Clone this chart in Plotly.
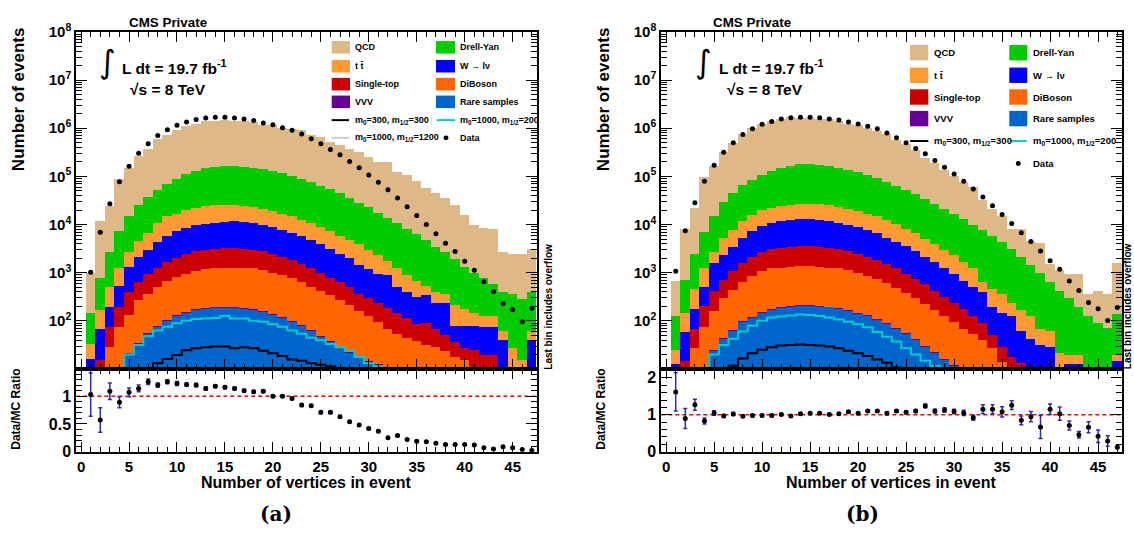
import plotly.graph_objects as go

W, H = 1134, 544
FONT = "Liberation Sans"

bins = list(range(1, 48))
x_tick_vals = [0, 5, 10, 15, 20, 25, 30, 35, 40, 45]

# ---------------- panel (a): log10(number of events), cumulative stack tops ----------------
qcd_a = [3.0, 4.08, 4.39, 4.94, 5.18, 5.42, 5.58, 5.77, 5.87, 5.97, 6.05, 6.10, 6.15, 6.16, 6.17, 6.15,
         6.15, 6.13, 6.07, 6.07, 6.01, 5.98, 5.96, 5.86, 5.83, 5.71, 5.65, 5.58, 5.50, 5.41, 5.31, 5.30,
         5.09, 5.03, 4.91, 4.77, 4.65, 4.55, 4.40, 4.20, 4.00, 3.93, 3.90, 3.43, 3.40, 3.40, 3.50]
dy_a = [2.17, 2.9, 3.43, 3.87, 4.17, 4.4, 4.57, 4.72, 4.85, 4.95, 5.05, 5.11, 5.17, 5.19, 5.21, 5.21,
        5.2, 5.18, 5.15, 5.11, 5.07, 5.01, 4.95, 4.89, 4.8, 4.73, 4.65, 4.55, 4.45, 4.37, 4.25, 4.13,
        4.03, 3.91, 3.8, 3.69, 3.53, 3.43, 3.29, 3.13, 3.0, 2.89, 2.77, 2.6, 2.55, 2.45, 2.6]
tt_a = [1.53, 2.23, 2.7, 3.1, 3.43, 3.67, 3.83, 4.03, 4.17, 4.23, 4.3, 4.35, 4.39, 4.4, 4.4, 4.4,
        4.39, 4.37, 4.33, 4.29, 4.23, 4.17, 4.1, 4.03, 3.95, 3.87, 3.77, 3.69, 3.6, 3.47, 3.37, 3.25,
        3.1, 2.95, 2.82, 2.73, 2.6, 2.57, 2.33, 2.25, 2.17, 2.1, 2.1, 1.8, 1.43, 1.2, 1.8]
w_a = [1.22, 1.83, 2.3, 2.73, 3.13, 3.33, 3.47, 3.63, 3.77, 3.87, 3.93, 3.99, 4.01, 4.03, 4.05, 4.07,
       4.05, 4.03, 4.0, 3.95, 3.89, 3.83, 3.77, 3.69, 3.6, 3.5, 3.4, 3.3, 3.17, 3.07, 2.97, 2.95,
       2.7, 2.6, 2.5, 2.53, 2.37, 2.37, 1.9, 1.9, 1.9, 1.87, 1.87, 1.6, None, None, 1.6]
st_a = [None, 1.2, 1.87, 2.3, 2.6, 2.8, 2.97, 3.1, 3.23, 3.31, 3.4, 3.45, 3.48, 3.5, 3.51, 3.51,
        3.5, 3.48, 3.45, 3.4, 3.33, 3.27, 3.18, 3.09, 3.0, 2.9, 2.8, 2.7, 2.57, 2.47, 2.37, 2.27,
        2.17, 2.07, 1.93, 1.95, 1.83, 1.7, 1.57, 1.43, 1.4, 1.3, 1.3, None, None, None, None]
db_a = [None, None, 1.47, 1.87, 2.13, 2.43, 2.57, 2.7, 2.83, 2.91, 2.97, 3.03, 3.08, 3.1, 3.11, 3.11,
        3.1, 3.09, 3.05, 3.0, 2.95, 2.89, 2.8, 2.71, 2.63, 2.53, 2.43, 2.33, 2.2, 2.1, 1.97, 1.83,
        1.73, 1.65, 1.58, 1.5, 1.45, 1.37, 1.25, 1.2, None, None, None, None, None, None, None]
vvv_a = [None, None, None, 1.05, 1.33, 1.55, 1.75, 1.89, 2.02, 2.12, 2.19, 2.24, 2.27, 2.28, 2.29, 2.29,
         2.27, 2.25, 2.2, 2.15, 2.09, 2.0, 1.92, 1.82, 1.69, 1.59, 1.45, 1.35, 1.25, 1.17, 1.1, 1.04,
         None, None, None, None, None, None, None, None, None, None, None, None, None, None, None]
rare_a = [None, None, None, None, 1.31, 1.53, 1.73, 1.87, 2.0, 2.1, 2.17, 2.22, 2.25, 2.26, 2.27, 2.27,
          2.25, 2.23, 2.18, 2.13, 2.07, 1.98, 1.9, 1.8, 1.67, 1.57, 1.43, 1.33, 1.23, 1.15, 1.08, 1.02,
          None, None, None, None, None, None, None, None, None, None, None, None, None, None, None]
sig_cyan_a = [None, None, None, None, 1.3, 1.5, 1.68, 1.8, 1.88, 1.95, 2.0, 2.04, 2.05, 2.06, 2.1, 2.05,
              2.05, 2.0, 1.98, 1.93, 1.88, 1.8, 1.73, 1.65, 1.6, 1.52, 1.45, 1.38, 1.25, 1.12, 1.05, 1.02,
              None, None, None, None, None, None, None, None, None, None, None, None, None, None, None]
sig_black_a = [None, None, None, None, None, None, None, 1.12, 1.21, 1.29, 1.39, 1.43, 1.45, 1.47, 1.47, 1.43,
               1.45, 1.43, 1.38, 1.33, 1.27, 1.2, 1.17, 1.12, 1.09, 1.05, None, None, None, None, None, None,
               None, None, None, None, None, None, None, None, None, None, None, None, None, None, None]
data_a = [3.01, 3.84, 4.43, 4.89, 5.21, 5.48, 5.68, 5.85, 5.97, 6.06, 6.13, 6.18, 6.21, 6.23, 6.23, 6.21,
          6.19, 6.16, 6.11, 6.07, 6.01, 5.96, 5.88, 5.78, 5.68, 5.56, 5.45, 5.31, 5.18, 5.03, 4.88, 4.72,
          4.55, 4.37, 4.19, 4.0, 3.81, 3.61, 3.44, 3.24, 3.05, 2.81, 2.61, 2.36, 2.23, 1.98, 2.26]
ratio_a = [1.03, 0.57, 1.09, 0.89, 1.07, 1.14, 1.26, 1.2, 1.26, 1.23, 1.21, 1.2, 1.14, 1.18, 1.16, 1.14,
           1.1, 1.08, 1.09, 1.0, 1.0, 0.96, 0.84, 0.83, 0.71, 0.71, 0.63, 0.54, 0.48, 0.42, 0.37, 0.25,
           0.29, 0.22, 0.19, 0.18, 0.15, 0.13, 0.13, 0.13, 0.12, 0.07, 0.05, 0.09, 0.07, 0.04, 0.02]
ratio_err_a = [0.39, 0.22, 0.15, 0.1, 0.08, 0.06, 0.05, 0.04, 0.035, 0.035, 0.03, 0.03, 0.03, 0.025, 0.025, 0.025,
               0.025, 0.025, 0.025, 0.02, 0.02, 0.02, 0.025, 0.02, 0.025, 0.02, 0.02, 0.015, 0.015, 0.015, 0.015, 0.02,
               0.015, 0.01, 0.01, 0.01, 0.01, 0.01, 0.01, 0.01, 0.01, 0.01, 0.01, 0.01, 0.01, 0.01, 0.01]

# ---------------- panel (b) ----------------
qcd_b = [2.82, 3.92, 4.35, 4.98, 5.21, 5.51, 5.69, 5.89, 6.0, 6.09, 6.15, 6.19, 6.23, 6.22, 6.21, 6.2,
         6.19, 6.16, 6.1, 6.07, 6.0, 5.95, 5.88, 5.76, 5.67, 5.54, 5.38, 5.29, 5.14, 5.01, 4.88, 4.78,
         4.51, 4.33, 4.18, 3.92, 3.9, 3.67, 3.62, 3.19, 3.06, 2.98, 2.97, 2.56, 2.63, 2.55, 3.2]
dy_b = [2.1, 2.85, 3.4, 3.85, 4.18, 4.47, 4.65, 4.83, 4.93, 5.03, 5.11, 5.17, 5.21, 5.25, 5.25, 5.23,
        5.21, 5.18, 5.13, 5.09, 5.03, 4.97, 4.89, 4.8, 4.71, 4.63, 4.53, 4.43, 4.33, 4.23, 4.12, 4.0,
        3.89, 3.77, 3.63, 3.5, 3.33, 3.17, 3.0, 2.8, 2.63, 2.47, 2.3, 2.1, 1.95, 1.85, 2.15]
tt_b = [1.4, 2.17, 2.67, 3.1, 3.43, 3.73, 3.89, 4.07, 4.2, 4.3, 4.35, 4.39, 4.41, 4.43, 4.43, 4.42,
        4.4, 4.37, 4.33, 4.29, 4.23, 4.17, 4.1, 4.02, 3.91, 3.82, 3.71, 3.6, 3.48, 3.37, 3.23, 3.1,
        2.8, 2.67, 2.57, 2.37, 2.23, 2.1, 1.83, 1.8, 1.33, 1.3, 1.3, None, None, None, 1.3]
w_b = [1.1, 1.77, 2.25, 2.7, 3.2, 3.37, 3.53, 3.73, 3.87, 3.97, 4.03, 4.07, 4.1, 4.11, 4.11, 4.1,
       4.07, 4.03, 4.0, 3.95, 3.89, 3.82, 3.73, 3.65, 3.55, 3.45, 3.33, 3.22, 3.1, 2.97, 2.83, 2.7,
       2.6, 2.3, 2.17, 2.1, 1.8, 1.63, 1.5, 1.45, None, 1.1, 1.1, None, None, None, 1.17]
st_b = [None, 1.17, 1.83, 2.31, 2.63, 2.85, 3.03, 3.2, 3.33, 3.43, 3.49, 3.51, 3.53, 3.55, 3.55, 3.53,
        3.51, 3.49, 3.45, 3.4, 3.33, 3.27, 3.18, 3.09, 2.98, 2.87, 2.77, 2.63, 2.5, 2.38, 2.25, 2.1,
        1.95, 1.7, 1.45, 1.25, 1.13, 1.05, None, None, None, None, None, None, None, None, None]
db_b = [None, None, 1.43, 1.87, 2.2, 2.47, 2.65, 2.8, 2.93, 3.03, 3.09, 3.11, 3.13, 3.15, 3.15, 3.13,
        3.11, 3.09, 3.05, 3.0, 2.93, 2.87, 2.78, 2.69, 2.58, 2.47, 2.35, 2.23, 2.1, 1.97, 1.83, 1.72,
        1.6, 1.43, 1.15, 1.0, None, None, None, None, None, None, None, None, None, None, None]
vvv_b = [None, None, None, None, 1.4, 1.65, 1.82, 1.99, 2.09, 2.19, 2.24, 2.29, 2.32, 2.34, 2.34, 2.32,
         2.3, 2.27, 2.22, 2.17, 2.12, 2.05, 1.95, 1.85, 1.75, 1.62, 1.49, 1.35, 1.22, 1.09, None, None,
         None, None, None, None, None, None, None, None, None, None, None, None, None, None, None]
rare_b = [None, None, None, None, 1.38, 1.63, 1.8, 1.97, 2.07, 2.17, 2.22, 2.27, 2.3, 2.32, 2.32, 2.3,
          2.28, 2.25, 2.2, 2.15, 2.1, 2.03, 1.93, 1.83, 1.73, 1.6, 1.47, 1.33, 1.2, 1.07, None, None,
          None, None, None, None, None, None, None, None, None, None, None, None, None, None, None]
sig_cyan_b = [None, None, None, None, 1.3, 1.5, 1.63, 1.78, 1.9, 2.0, 2.07, 2.09, 2.11, 2.13, 2.12, 2.1,
              2.07, 2.03, 1.98, 1.93, 1.87, 1.77, 1.67, 1.57, 1.43, 1.3, 1.17, 1.07, None, None, None, None,
              None, None, None, None, None, None, None, None, None, None, None, None, None, None, None]
sig_black_b = [None, None, None, None, None, None, 1.07, 1.22, 1.33, 1.4, 1.45, 1.49, 1.5, 1.51, 1.5, 1.49,
               1.47, 1.43, 1.38, 1.33, 1.27, 1.2, 1.13, 1.03, None, None, None, None, None, None, None, None,
               None, None, None, None, None, None, None, None, None, None, None, None, None, None, None]
data_b = [3.03, 3.87, 4.45, 4.9, 5.23, 5.5, 5.7, 5.87, 5.99, 6.08, 6.14, 6.19, 6.22, 6.23, 6.23, 6.22,
          6.19, 6.17, 6.13, 6.09, 6.04, 5.99, 5.9, 5.8, 5.7, 5.58, 5.47, 5.33, 5.19, 5.05, 4.9, 4.74,
          4.57, 4.39, 4.21, 4.02, 3.83, 3.65, 3.45, 3.25, 3.07, 2.83, 2.63, 2.38, 2.25, 2.01, 2.28]
ratio_b = [1.62, 0.9, 1.27, 0.83, 1.05, 0.97, 1.02, 0.96, 0.98, 0.98, 0.98, 1.01, 0.97, 1.03, 1.04, 1.04,
           1.01, 1.03, 1.08, 1.04, 1.1, 1.1, 1.04, 1.1, 1.07, 1.1, 1.24, 1.1, 1.13, 1.09, 1.05, 0.92,
           1.15, 1.15, 1.08, 1.26, 0.85, 0.95, 0.67, 1.15, 1.03, 0.71, 0.46, 0.66, 0.42, 0.29, 0.12]
ratio_err_b = [0.52, 0.27, 0.15, 0.08, 0.06, 0.04, 0.04, 0.03, 0.03, 0.03, 0.025, 0.025, 0.025, 0.025, 0.025, 0.025,
               0.025, 0.025, 0.03, 0.03, 0.03, 0.03, 0.04, 0.03, 0.04, 0.04, 0.05, 0.05, 0.06, 0.06, 0.07, 0.07,
               0.12, 0.12, 0.14, 0.12, 0.12, 0.14, 0.31, 0.14, 0.18, 0.12, 0.09, 0.15, 0.17, 0.14, 0.03]

# colours
C_QCD, C_DY, C_TT, C_W = "#deb887", "#00cc00", "#ff9933", "#0000ff"
C_ST, C_DB, C_VVV, C_RARE = "#cc0000", "#ff6600", "#660099", "#0066cc"
C_CYAN, C_GRAY, C_ERR = "#00cccc", "#cccccc", "#2a2ab4"


def lin(arr):
    return [None if v is None else 10 ** v for v in arr]


def lin_hist(arr):
    # empty bins are drawn at 1 (below the 10^1 floor) so the step outline drops off the frame
    return [1.0 if v is None else 10 ** v for v in arr]


fig = go.Figure()

panels = [
    dict(xa="x", ya="y", xr="x2", yr="y2",
         stack=[qcd_a, dy_a, tt_a, w_a, st_a, db_a, vvv_a, rare_a],
         cyan=sig_cyan_a, black=sig_black_a, data=data_a, ratio=ratio_a, err=ratio_err_a),
    dict(xa="x3", ya="y3", xr="x4", yr="y4",
         stack=[qcd_b, dy_b, tt_b, w_b, st_b, db_b, vvv_b, rare_b],
         cyan=sig_cyan_b, black=sig_black_b, data=data_b, ratio=ratio_b, err=ratio_err_b),
]
stack_colors = [C_QCD, C_DY, C_TT, C_W, C_ST, C_DB, C_VVV, C_RARE]

for p in panels:
    for arr, col in zip(p["stack"], stack_colors):
        fig.add_trace(go.Bar(x=bins, y=lin(arr), width=1.0, marker=dict(color=col, line=dict(width=0)),
                             xaxis=p["xa"], yaxis=p["ya"], showlegend=False, hoverinfo="skip"))
    fig.add_trace(go.Scatter(x=bins, y=lin_hist(p["cyan"]), mode="lines",
                             line=dict(shape="hvh", color=C_CYAN, width=2),
                             xaxis=p["xa"], yaxis=p["ya"], showlegend=False))
    fig.add_trace(go.Scatter(x=bins, y=lin_hist(p["black"]), mode="lines",
                             line=dict(shape="hvh", color="black", width=2),
                             xaxis=p["xa"], yaxis=p["ya"], showlegend=False))
    fig.add_trace(go.Scatter(x=bins, y=lin(p["data"]), mode="markers",
                             marker=dict(color="black", size=5),
                             xaxis=p["xa"], yaxis=p["ya"], showlegend=False))
    fig.add_trace(go.Scatter(x=bins, y=p["ratio"], mode="markers",
                             marker=dict(color="black", size=5),
                             error_y=dict(type="data", array=p["err"], color=C_ERR, thickness=1.5, width=2),
                             xaxis=p["xr"], yaxis=p["yr"], showlegend=False))

# geometry (pixels)
MAIN_TOP, MAIN_BOT, RAT_BOT = 21.7, 371.7, 457.5
XA = (76.3, 536.6)
XB = (661.3, 1122.1)


def xdom(a):
    return [a[0] / W, a[1] / W]


def ydom(top, bot):
    return [1 - bot / H, 1 - top / H]


tick_font = dict(family=FONT, size=15, color="black", weight="bold")

common_x = dict(range=[-0.5, 47.5], showgrid=False, zeroline=False, showline=True, linecolor="black",
                linewidth=2, mirror="allticks", ticks="inside", ticklen=10, tickwidth=1.2, tickcolor="black",
                tickmode="array", tickvals=x_tick_vals,
                minor=dict(ticks="inside", ticklen=5, dtick=1, tick0=0, tickcolor="black", tickwidth=1))

log_major = [10 ** e for e in range(2, 9)]
log_text = ["10<sup>%d</sup>" % e for e in range(2, 9)]
log_minor = [k * 10 ** e for e in range(1, 8) for k in range(2, 10)]
main_y = dict(type="log", range=[1, 8], showgrid=False, zeroline=False, showline=True, linecolor="black",
              linewidth=2, mirror="allticks", ticks="inside", ticklen=11, tickwidth=1.2, tickcolor="black",
              tickmode="array", tickvals=log_major, ticktext=log_text, tickfont=tick_font,
              minor=dict(ticks="inside", ticklen=6, tickmode="array", tickvals=log_minor,
                         tickcolor="black", tickwidth=1))

fig.update_layout(
    width=W, height=H, margin=dict(l=0, r=0, t=0, b=0),
    paper_bgcolor="white", plot_bgcolor="white",
    barmode="overlay", bargap=0, showlegend=False,
    xaxis=dict(common_x, domain=xdom(XA), anchor="y", showticklabels=False),
    yaxis=dict(main_y, domain=ydom(MAIN_TOP, MAIN_BOT), anchor="x"),
    xaxis2=dict(common_x, domain=xdom(XA), anchor="y2", showticklabels=True, tickfont=dict(tick_font, size=15),
                ticklabelstandoff=0),
    yaxis2=dict(domain=ydom(MAIN_BOT, RAT_BOT), anchor="x2", range=[0, 1.49], showgrid=False, zeroline=False,
                showline=True, linecolor="black", linewidth=2, mirror="allticks", ticks="inside", ticklen=11,
                tickwidth=1.2, tickcolor="black", tickmode="array", tickvals=[0, 0.5, 1],
                ticktext=["0", "0.5", "1"], tickfont=dict(tick_font, size=16),
                minor=dict(ticks="inside", ticklen=6, dtick=0.1, tick0=0, tickcolor="black", tickwidth=1)),
    xaxis3=dict(common_x, domain=xdom(XB), anchor="y3", showticklabels=False),
    yaxis3=dict(main_y, domain=ydom(MAIN_TOP, MAIN_BOT), anchor="x3"),
    xaxis4=dict(common_x, domain=xdom(XB), anchor="y4", showticklabels=True, tickfont=dict(tick_font, size=15),
                ticklabelstandoff=0),
    yaxis4=dict(domain=ydom(MAIN_BOT, RAT_BOT), anchor="x4", range=[0, 2.24], showgrid=False, zeroline=False,
                showline=True, linecolor="black", linewidth=2, mirror="allticks", ticks="inside", ticklen=11,
                tickwidth=1.2, tickcolor="black", tickmode="array", tickvals=[0, 1, 2],
                ticktext=["0", "1", "2"], tickfont=dict(tick_font, size=16),
                minor=dict(ticks="inside", ticklen=6, dtick=0.2, tick0=0, tickcolor="black", tickwidth=1)),
)

shapes = []
annotations = []


def text(x, y, s, size, xanchor="center", yanchor="middle", angle=0, family=FONT, bold=True):
    annotations.append(dict(x=x / W, y=1 - y / H, xref="paper", yref="paper",
                            text=("<b>%s</b>" % s) if bold else s, showarrow=False,
                            xanchor=xanchor, yanchor=yanchor, textangle=angle,
                            font=dict(family=family, size=size, color="black")))


for xr, yr in (("x2", "y2"), ("x4", "y4")):
    shapes.append(dict(type="line", xref=xr, yref=yr, x0=-0.5, x1=47.5, y0=1, y1=1, layer="below",
                       line=dict(color="red", width=1.5, dash="4px,3px")))

# per-panel texts
for off, (x0, x1) in ((0, XA), (585, XB)):
    text(167.5 + off, 12, "CMS Private", 13.4)
    text(18 + off, 91.5, "Number of events", 17, angle=-90)
    text(16 + off, 414, "Data/MC Ratio", 12, angle=-90)
    text((x0 + x1) / 2, 490, "Number of vertices in event", 16)
text(548.3, 306.7, "Last bin includes overflow", 10, angle=-90)
text(1127.8, 306.7, "Last bin includes overflow", 10, angle=-90)

# luminosity labels
text(107, 53, "\u222b", 32, family="DejaVu Sans", bold=False)
text(120, 58, "L dt = 19.7 fb<sup>-1</sup>", 15.5, xanchor="left")
text(128, 82, "\u221as = 8 TeV", 15.5, xanchor="left")
text(703, 53, "\u222b", 32, family="DejaVu Sans", bold=False)
text(716.7, 58, "L dt = 19.7 fb<sup>-1</sup>", 15.5, xanchor="left")
text(725, 82, "\u221as = 8 TeV", 15.5, xanchor="left")

# captions
text(276, 522, "(a)", 20, family="DejaVu Serif")
text(862, 522, "(b)", 20, family="DejaVu Serif")


# legends (drawn by hand to copy the ROOT layout)
def leg_box(x0, x1, yc, h, col):
    shapes.append(dict(type="rect", xref="paper", yref="paper", x0=x0 / W, x1=x1 / W,
                       y0=1 - (yc + h / 2) / H, y1=1 - (yc - h / 2) / H, fillcolor=col, line=dict(width=0)))


def leg_line(x0, x1, yc, col):
    shapes.append(dict(type="line", xref="paper", yref="paper", x0=x0 / W, x1=x1 / W,
                       y0=1 - yc / H, y1=1 - yc / H, line=dict(color=col, width=2)))


def leg_dot(xc, yc):
    r = 2.5
    shapes.append(dict(type="circle", xref="paper", yref="paper", x0=(xc - r) / W, x1=(xc + r) / W,
                       y0=1 - (yc + r) / H, y1=1 - (yc - r) / H, fillcolor="black", line=dict(width=0)))


sig1 = "m<sub>0</sub>=300, m<sub>1/2</sub>=300"
sig2 = "m<sub>0</sub>=1000, m<sub>1/2</sub>=200"
sig3 = "m<sub>0</sub>=1000, m<sub>1/2</sub>=1200"

# (a)
ra = [37.7, 57.3, 76.0, 94.3, 113.3, 131.7]
c1b, c1t, c2b, c2t = (331.7, 350), 352.7, (436, 455), 458
fa = 9
for row, (l1, col1, l2, col2) in enumerate([("QCD", C_QCD, "Drell-Yan", C_DY),
                                             ("t t\u0304", C_TT, "W \u2192 l\u03bd", C_W),
                                             ("Single-top", C_ST, "DiBoson", C_DB),
                                             ("VVV", C_VVV, "Rare samples", C_RARE)]):
    leg_box(c1b[0], c1b[1], ra[row], 13, col1)
    text(c1t, ra[row], l1, fa, xanchor="left")
    leg_box(c2b[0], c2b[1], ra[row], 13, col2)
    text(c2t, ra[row], l2, fa, xanchor="left")
leg_line(c1b[0], c1b[1] - 1, ra[4], "black")
text(c1t, ra[4], sig1, fa, xanchor="left")
leg_line(c2b[0] + 0.7, c2b[1], ra[4], C_CYAN)
text(c2t, ra[4], sig2, fa, xanchor="left")
leg_line(c1b[0], c1b[1] - 1, ra[5], C_GRAY)
text(c1t, ra[5], sig3, fa, xanchor="left")
leg_dot(446, ra[5])
text(c2t, ra[5], "Data", fa, xanchor="left")

# (b)
rb = [43.3, 66.7, 89.3, 111.7, 135.0, 158.3]
d1b, d1t, d2b, d2t = (910, 928.3), 931.7, (1009.3, 1027.3), 1031
fb = 9.5
for row, (l1, col1, l2, col2) in enumerate([("QCD", C_QCD, "Drell-Yan", C_DY),
                                             ("t t\u0304", C_TT, "W \u2192 l\u03bd", C_W),
                                             ("Single-top", C_ST, "DiBoson", C_DB),
                                             ("VVV", C_VVV, "Rare samples", C_RARE)]):
    leg_box(d1b[0], d1b[1], rb[row], 16, col1)
    text(d1t, rb[row], l1, fb, xanchor="left")
    leg_box(d2b[0], d2b[1], rb[row], 16, col2)
    text(d2t, rb[row], l2, fb, xanchor="left")
leg_line(d1b[0], d1b[1], rb[4], "black")
text(d1t, rb[4], sig1, fb, xanchor="left")
leg_line(1010, 1026.7, rb[4], C_CYAN)
text(d2t, rb[4], sig2, fb, xanchor="left")
leg_dot(1018.3, rb[5])
text(d2t, rb[5], "Data", fb, xanchor="left")

fig.update_layout(shapes=shapes, annotations=annotations)
fig.write_html("out.html")
